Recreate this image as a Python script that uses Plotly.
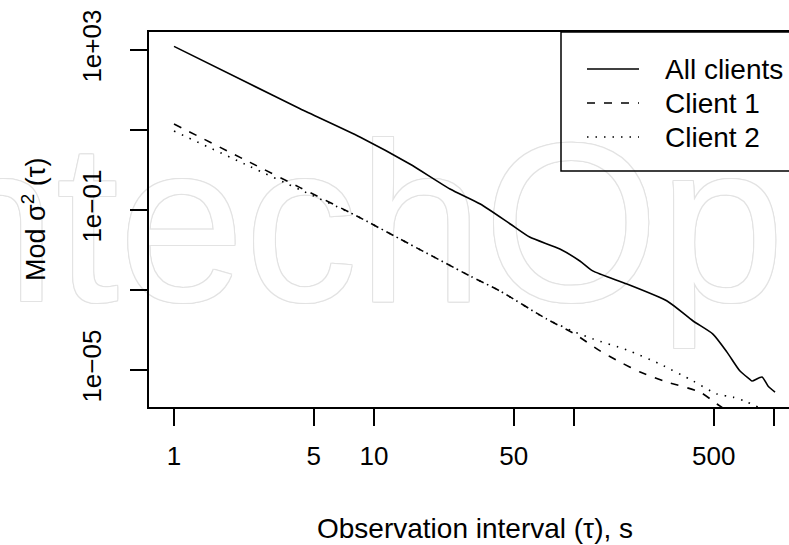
import plotly.graph_objects as go

# Observation intervals (s) and modified variance for each series
tau_all = [1, 2.4, 4.27, 8.5, 15.1, 24, 34, 48, 60, 85, 107, 124, 184, 292,
           394, 495, 582, 676, 752, 776, 871, 933, 1012]
var_all = [1230, 141, 34, 6.7, 1.41, 0.335, 0.141, 0.0447, 0.0211, 0.0106,
           0.0053, 0.003, 0.00141, 5.3e-4, 1.68e-4, 7.9e-5, 2.8e-5, 9.4e-6,
           6.0e-6, 5.3e-6, 6.7e-6, 4.0e-6, 2.8e-6]

tau_c1 = [1, 2.4, 4.27, 8.2, 13.5, 30.2, 42.7, 73, 101, 135, 170, 214, 292,
          427, 519, 575]
var_c1 = [14.1, 1.55, 0.363, 0.0708, 0.0188, 0.00224, 9.4e-4, 1.88e-4, 7.9e-5,
          3.0e-5, 1.58e-5, 8.9e-6, 5.0e-6, 2.8e-6, 1.41e-6, 1.0e-6]

tau_c2 = [1, 2.4, 4.27, 8.2, 13.5, 30.2, 42.7, 73, 101, 124, 184, 269, 394,
          519, 624, 733, 851]
var_c2 = [9.4, 1.22, 0.32, 0.0708, 0.0188, 0.00224, 9.4e-4, 1.88e-4, 8.9e-5,
          6.0e-5, 3.16e-5, 1.41e-5, 5.3e-6, 2.5e-6, 2.1e-6, 1.58e-6, 1.12e-6]

series_names = ["All clients", "Client 1", "Client 2"]
series_dash = ["solid", "8px,9px", "1.5px,7px"]

x_tickvals = [1, 5, 10, 50, 100, 500, 1000]
x_ticktext = ["1", "5", "10", "50", "", "500", ""]
y_tickvals = [1e-5, 1e-3, 1e-1, 1e1, 1e3]
y_ticktext = ["1e\u221205", "", "1e\u221201", "", "1e+03"]

W, H = 789, 545
ML, MR, MT, MB = 149, 0, 32, 138
PW, PH = W - ML - MR, H - MT - MB
FONT = "Liberation Sans, Arial, sans-serif"


def fx(p):
    return (p - ML) / PW


def fy(p):
    return (H - MB - p) / PH


fig = go.Figure()

# faint outlined publisher mark behind the data
OUT = "#e3e3e3"
fig.add_trace(go.Scatter(
    x=[24.5], y=[0.0141], mode="text", text=["IntechOpen"],
    textposition="middle center", cliponaxis=False, hoverinfo="skip",
    showlegend=False,
    textfont=dict(family=FONT, size=226, color="white",
                  shadow=f"1px 0 0 {OUT}, -1px 0 0 {OUT}, 0 1px 0 {OUT}, "
                         f"0 -1px 0 {OUT}, 1px 1px 0 {OUT}, -1px -1px 0 {OUT}, "
                         f"1px -1px 0 {OUT}, -1px 1px 0 {OUT}"),
))

for xs, ys, name, dash in zip([tau_all, tau_c1, tau_c2], [var_all, var_c1, var_c2],
                              series_names, series_dash):
    fig.add_trace(go.Scatter(
        x=xs, y=ys, mode="lines", name=name, showlegend=False,
        line=dict(color="black", width=1.6, dash=dash, shape="spline", smoothing=0.6),
    ))

axis_common = dict(
    showgrid=False, zeroline=False, showline=True, linecolor="black", linewidth=1.5,
    ticks="outside", ticklen=17, tickwidth=1.5, tickcolor="black",
    tickfont=dict(family=FONT, size=26, color="black"),
)

fig.update_xaxes(type="log", range=[-0.125, 3.075], tickmode="array",
                 tickvals=x_tickvals, ticktext=x_ticktext, mirror=True,
                 ticklabelstandoff=8, **axis_common)
fig.update_yaxes(type="log", range=[-5.925, 3.45], tickmode="array",
                 tickvals=y_tickvals, ticktext=y_ticktext, tickangle=-90,
                 ticklabelstandoff=19, **axis_common)

# legend box in the top-right corner
shapes = [dict(type="rect", xref="paper", yref="paper",
               x0=fx(561), x1=fx(805), y0=fy(171), y1=fy(MT),
               line=dict(color="black", width=1.5), fillcolor="rgba(0,0,0,0)",
               layer="above")]
annotations = []
for i, (name, dash) in enumerate(zip(series_names, series_dash)):
    yy = fy(69 + 34 * i)
    shapes.append(dict(type="line", xref="paper", yref="paper",
                       x0=fx(587), x1=fx(639), y0=yy, y1=yy,
                       line=dict(color="black", width=1.6, dash=dash), layer="above"))
    annotations.append(dict(text=name, xref="paper", yref="paper", x=fx(663), y=yy,
                            xanchor="left", yanchor="middle", showarrow=False,
                            font=dict(family=FONT, size=28, color="black")))

annotations.append(dict(text="Observation interval (\u03c4), s", xref="paper", yref="paper",
                        x=fx(475), y=fy(528), xanchor="center", yanchor="middle",
                        showarrow=False, font=dict(family=FONT, size=28, color="black")))
annotations.append(dict(text="Mod \u03c3<sup>2</sup> (\u03c4)", xref="paper", yref="paper",
                        x=fx(34), y=fy(220), xanchor="center", yanchor="middle",
                        textangle=-90, showarrow=False,
                        font=dict(family=FONT, size=27, color="black")))

fig.update_layout(
    width=W, height=H, margin=dict(l=ML, r=MR, t=MT, b=MB),
    paper_bgcolor="white", plot_bgcolor="white",
    shapes=shapes, annotations=annotations, showlegend=False,
)

fig.write_html("out.html")
